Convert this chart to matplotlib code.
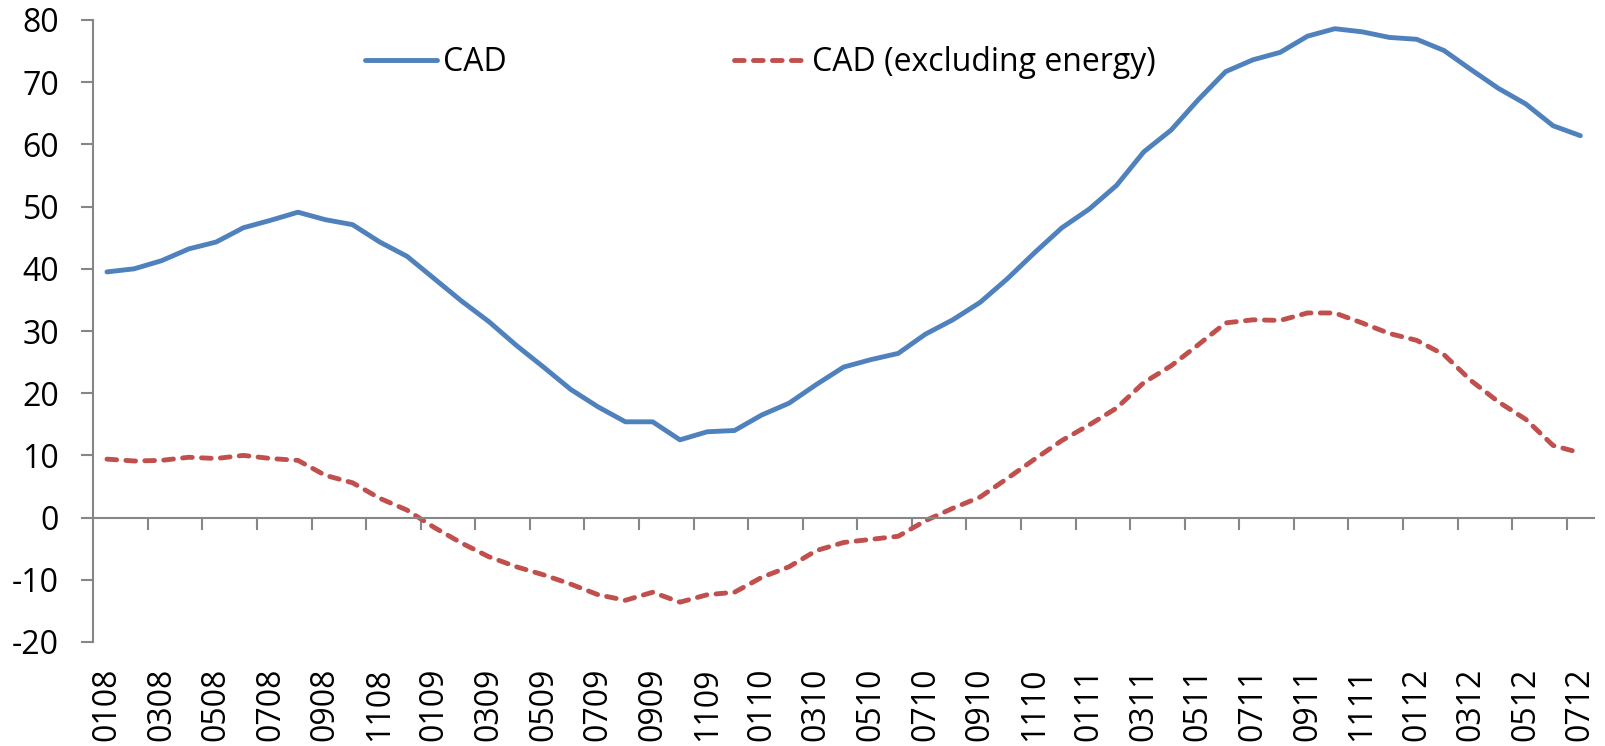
import matplotlib
matplotlib.use("Agg")
import matplotlib.pyplot as plt
import numpy as np

# Monthly categories Jan 2008 .. Jul 2012 (labels every other month)
months = [f"{m:02d}{y:02d}" for y in range(8, 13) for m in range(1, 13)]
months = months[:55]
tick_labels = months[::2]

cad = [39.5, 40.0, 41.3, 43.2, 44.3, 46.6, 47.8, 49.1, 47.9, 47.1,
       44.3, 42.0, 38.4, 34.8, 31.5, 27.7, 24.2, 20.6, 17.8, 15.4,
       15.4, 12.5, 13.8, 14.0, 16.5, 18.4, 21.4, 24.2, 25.4, 26.4,
       29.5, 31.8, 34.6, 38.4, 42.6, 46.6, 49.6, 53.4, 58.8, 62.3,
       67.2, 71.7, 73.6, 74.8, 77.4, 78.6, 78.1, 77.2, 76.9, 75.1,
       72.0, 69.0, 66.5, 63.0, 61.4]
cad_ex = [9.4, 9.1, 9.2, 9.7, 9.5, 10.0, 9.5, 9.2, 6.8, 5.6,
          3.1, 1.2, -1.6, -4.1, -6.3, -7.9, -9.2, -10.7, -12.4, -13.3,
          -12.0, -13.6, -12.4, -12.0, -9.6, -7.9, -5.3, -4.0, -3.5, -3.0,
          -0.5, 1.5, 3.3, 6.3, 9.4, 12.4, 14.9, 17.6, 21.7, 24.4,
          27.8, 31.3, 31.8, 31.7, 32.9, 32.9, 31.3, 29.6, 28.5, 26.2,
          22.0, 18.6, 15.8, 11.6, 10.4]
series_names = ["CAD", "CAD (excluding energy)"]

plt.rcParams['font.family'] = ['Open Sans', 'DejaVu Sans']
plt.rcParams['axes.unicode_minus'] = False

W, H = 1606, 746
fig = plt.figure(figsize=(W/100, H/100), dpi=100)
ax = fig.add_axes([93.3/W, 1-642/H, (1594-93.3)/W, (642-20)/H])

x = np.arange(len(months))
blue = '#4F81BD'
red = '#C0504D'
lw = 3.5
ax.plot(x, cad, color=blue, lw=lw, solid_capstyle='round', solid_joinstyle='round',
        label=series_names[0])
ax.plot(x, cad_ex, color=red, lw=lw, dashes=(2.0, 1.9), dash_capstyle='round',
        label=series_names[1])

ax.set_xlim(-0.5, len(months) - 0.5)
ax.set_ylim(-20, 80)
ax.set_yticks(np.arange(-20, 81, 10))

gray = '#868686'
for s in ['top', 'right']:
    ax.spines[s].set_visible(False)
ax.spines['left'].set_color(gray)
ax.spines['left'].set_linewidth(1.5)
ax.spines['bottom'].set_position(('data', 0))
ax.spines['bottom'].set_color(gray)
ax.spines['bottom'].set_linewidth(1.5)

fs = 23
ax.tick_params(axis='y', direction='out', length=8.6, width=1.5, color=gray,
               labelsize=fs, pad=16)
ax.set_xticks(x[::2])
ax.set_xticklabels(tick_labels, rotation=90, fontsize=fs)
ax.tick_params(axis='x', which='major', length=0, pad=108)
ax.set_xticks(np.arange(1.5, len(months) - 1, 2), minor=True)
ax.tick_params(axis='x', which='minor', direction='out', length=8.6, width=1.5, color=gray)

leg = ax.legend(loc='center left', bbox_to_anchor=(365/W, 1-62.3/H),
                bbox_transform=fig.transFigure, ncol=2, frameon=False,
                fontsize=fs, handlelength=2.26, handletextpad=0.19,
                columnspacing=7.1, borderpad=0, borderaxespad=0)

fig.savefig('out.png', dpi=100)
